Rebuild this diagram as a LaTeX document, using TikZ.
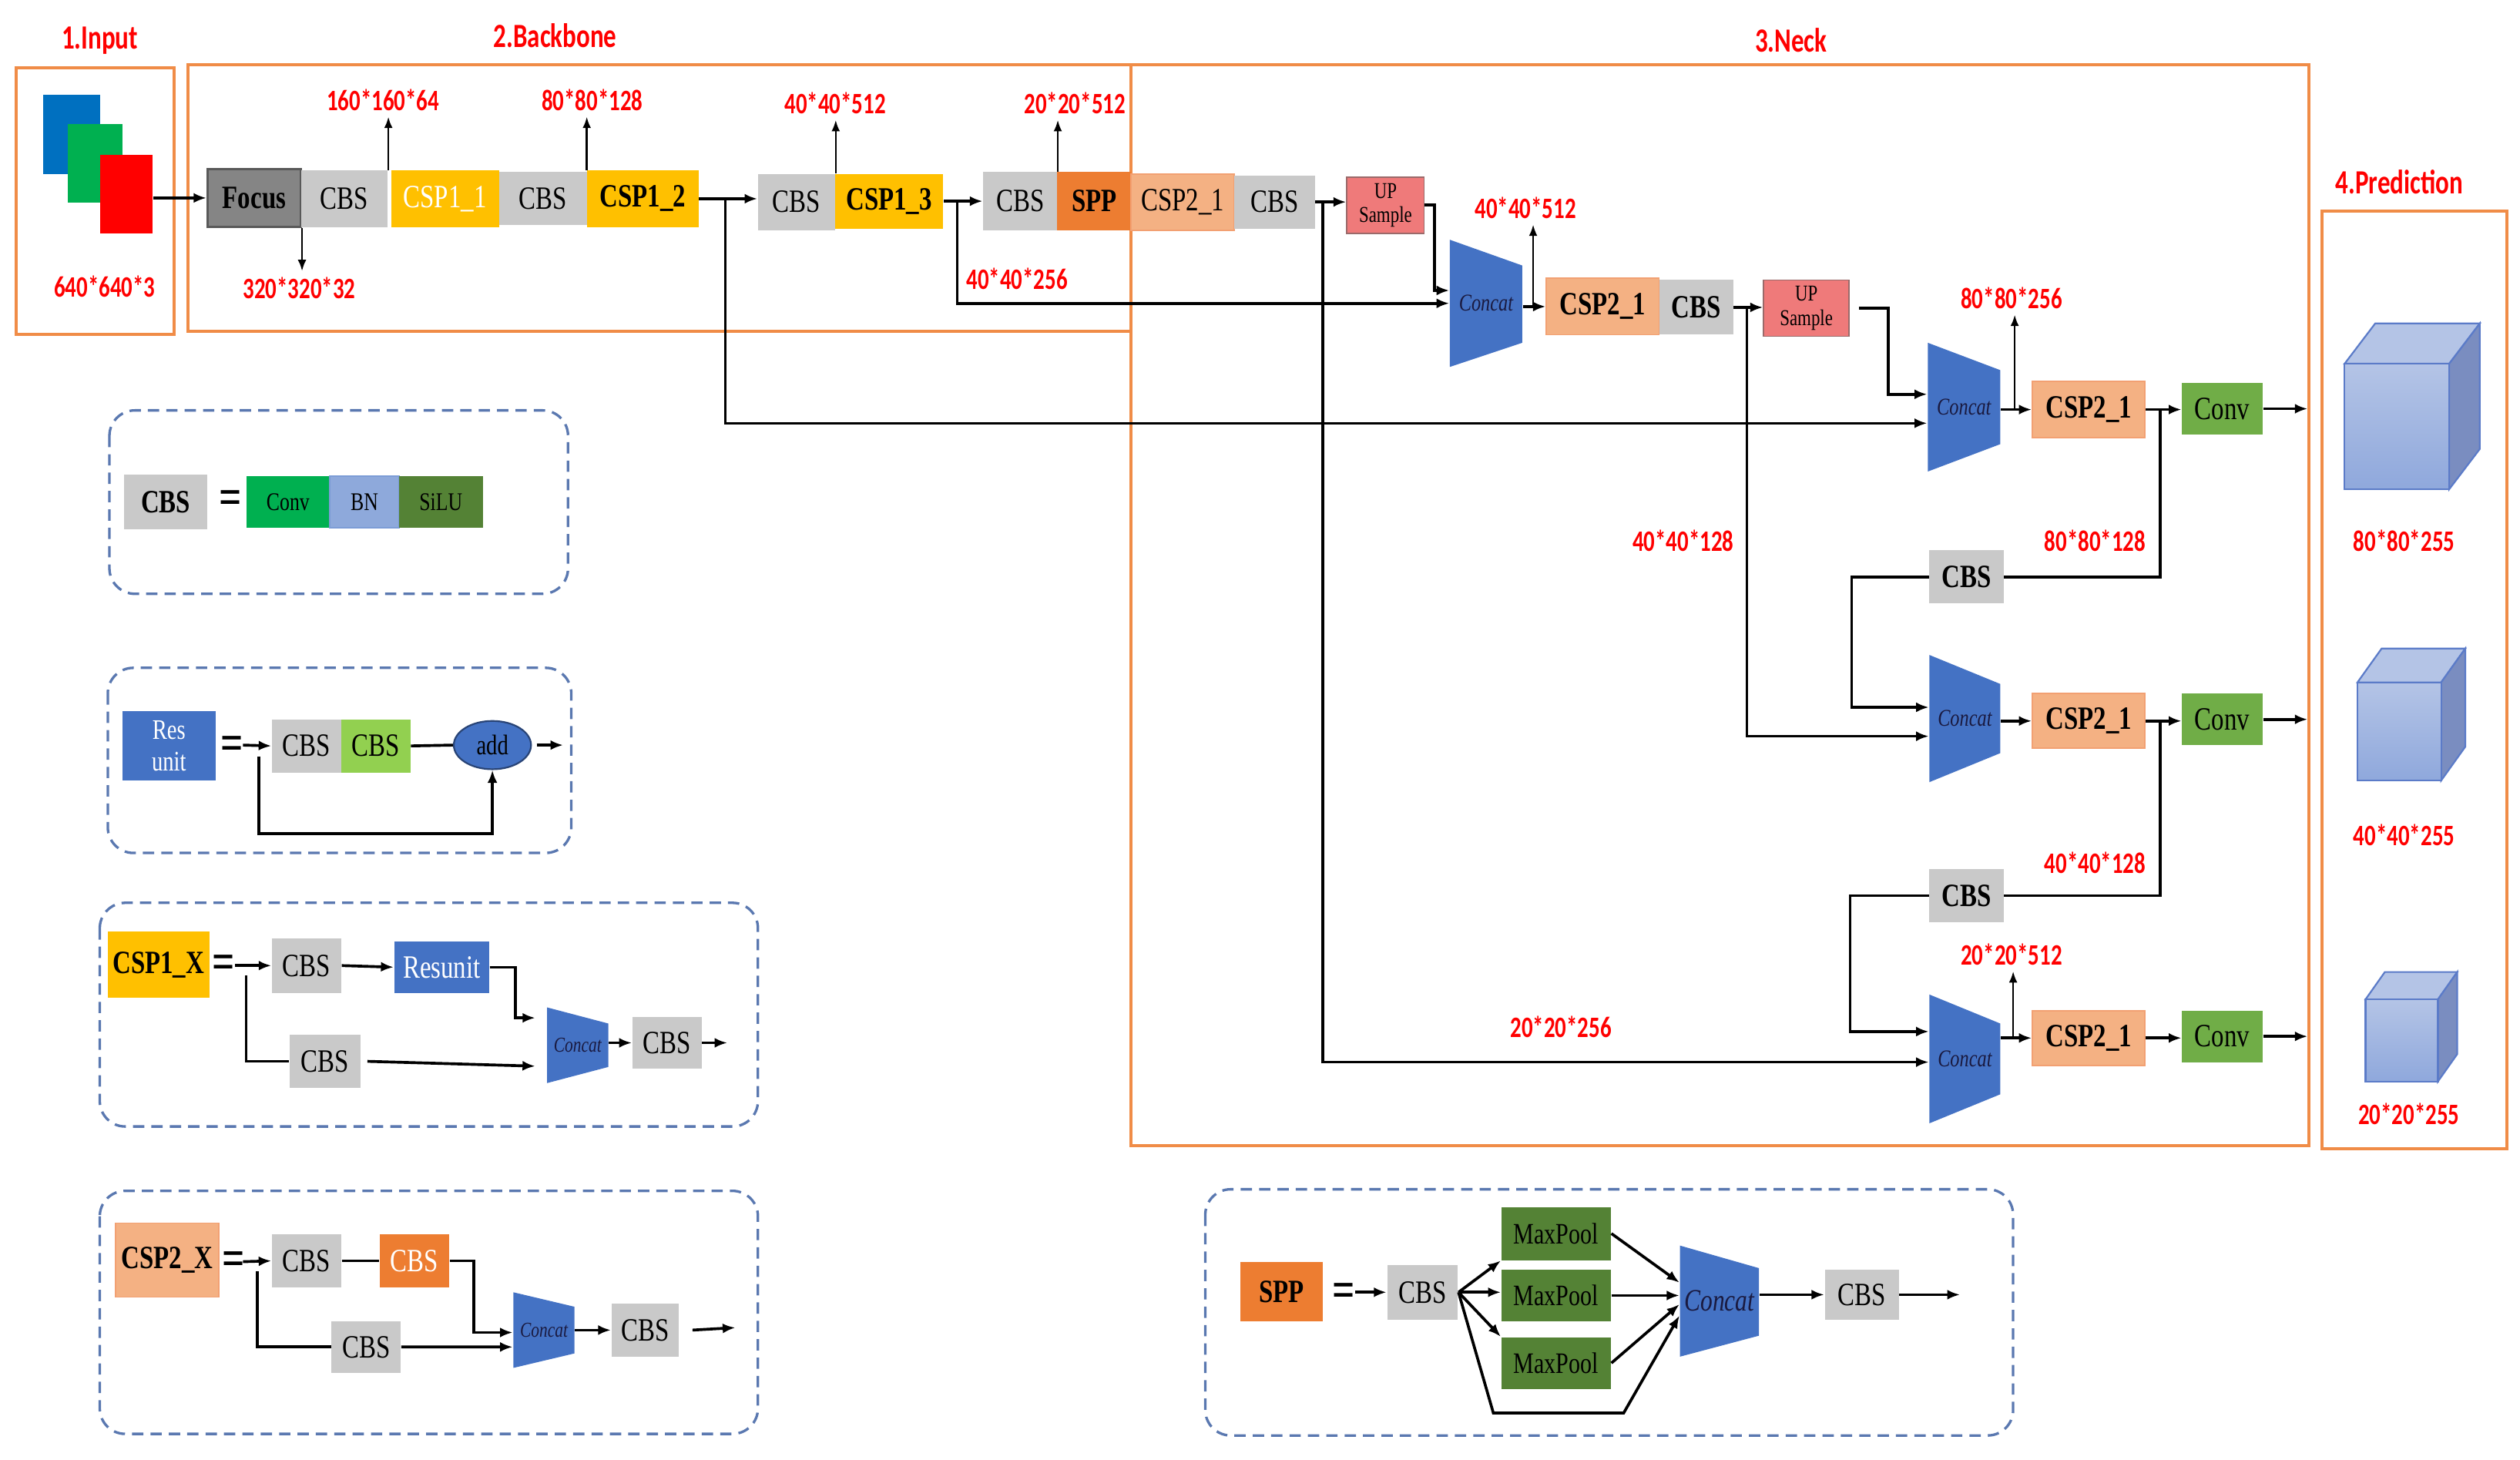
\documentclass[tikz,border=0pt]{standalone}
\usepackage{fontspec}
\usetikzlibrary{positioning, arrows.meta, calc, fit, shapes.geometric}
\newfontfamily\blkfont[FakeStretch=0.78]{Liberation Serif}
\newfontfamily\lblfont[FakeStretch=0.75]{Carlito}
\definecolor{cbsgray}{HTML}{C9C9C9}
\definecolor{focusgray}{HTML}{858585}
\definecolor{focusdark}{HTML}{595959}
\definecolor{cspyellow}{HTML}{FFC000}
\definecolor{spporange}{HTML}{ED7D31}
\definecolor{csppeach}{HTML}{F4B183}
\definecolor{csppeachdark}{HTML}{F2A072}
\definecolor{upred}{HTML}{EF7A7A}
\definecolor{upreddark}{HTML}{9A6A6A}
\definecolor{concatblue}{HTML}{4472C4}
\definecolor{concattext}{HTML}{1A1A40}
\definecolor{convgreen}{HTML}{70AD47}
\definecolor{lconvgreen}{HTML}{00B050}
\definecolor{bnblue}{HTML}{8EA9DB}
\definecolor{siluGreen}{HTML}{548235}
\definecolor{cbsgreen}{HTML}{92D050}
\definecolor{dimred}{HTML}{FF0000}
\definecolor{frameorange}{HTML}{F08C47}
\definecolor{dashblue}{HTML}{5A78B0}
\definecolor{inblue}{HTML}{0070C0}
\definecolor{ingreen}{HTML}{00B050}
\definecolor{inred}{HTML}{FF0000}
\definecolor{cubefront}{HTML}{8FA8DC}
\definecolor{cubetop}{HTML}{B4C4E6}
\definecolor{cubeside}{HTML}{7A8DC0}
\definecolor{cubeedge}{HTML}{5B7BC8}
\tikzset{
  sz/.style 2 args={minimum width=#1*0.02cm, minimum height=#2*0.02cm},
  blk/.style={inner sep=0pt, font=\blkfont\fontsize{11.5}{12}\selectfont},
  cbs node/.style={blk, fill=cbsgray},
  csp1 node/.style={blk, fill=cspyellow},
  csp2 node/.style={blk, fill=csppeach, draw=csppeachdark, line width=0.5pt},
  up node/.style={blk, fill=upred, draw=upreddark, line width=0.5pt, align=center, font=\blkfont\fontsize{8}{8.5}\selectfont},
  conv node/.style={blk, fill=convgreen},
  concat txt/.style={inner sep=0pt, text=concattext, font=\blkfont\itshape\fontsize{8.5}{9}\selectfont},
  dim/.style={text=dimred, inner sep=2pt, font=\lblfont\bfseries\fontsize{10.5}{11}\selectfont},
  title/.style={text=dimred, inner sep=1pt, font=\lblfont\bfseries\fontsize{12}{13}\selectfont},
  conn/.style={-{Latex[length=4.5pt,width=3.5pt]}, line width=1pt},
  dimarrow/.style={-{Latex[length=4pt,width=3pt]}, line width=0.7pt},
  wire/.style={line width=1pt},
  frame/.style={draw=frameorange, line width=1.1pt},
  legend/.style={draw=dashblue, dash pattern=on 4pt off 2.5pt, rounded corners=9pt, line width=0.9pt},
  eqsign/.style={inner sep=0pt, font=\blkfont\bfseries\fontsize{18}{18}\selectfont},
}

\begin{document}
\begin{tikzpicture}[x=0.02cm, y=-0.02cm]
\useasboundingbox (0,0) rectangle (1566,907.2);
% Frames
\draw[frame] (10,42) rectangle (108,208);
\draw[frame] (117,40) rectangle (703,206);
\draw[frame] (703,40) rectangle (1435,712);
\draw[frame] (1443,131) rectangle (1558,714);
\node[title] (tin) at (62,25) {1.Input};
\node[title] (tbb) at (345,22) {2.Backbone};
\node[title] (tneck) at (1113,25) {3.Neck};
\node[title] (tpred) at (1491,113) {4.Prediction};

% Input
\node[fill=inblue, inner sep=0pt, fit={(27,59)(62,108)}] (imgb) {};
\node[fill=ingreen, inner sep=0pt, fit={(42,77)(76,126)}] (imgg) {};
\node[fill=inred, inner sep=0pt, fit={(62,96)(95,145)}] (imgr) {};
\node[dim] (din) at (65,178) {640*640*3};

% Backbone
\node[blk, fill=focusgray, draw=focusdark, line width=0.8pt, sz={58}{36}] (focus) at (158,123) {\bfseries Focus};
\node[cbs node, sz={54}{35}] (bcbs1) at (214,123.5) {CBS};
\node[csp1 node, text=white, sz={67}{35}] (bcsp1) at (276.5,123.5) {CSP1\_1};
\node[cbs node, sz={55}{33}] (bcbs2) at (337.5,123.5) {CBS};
\node[csp1 node, sz={69}{35}] (bcsp2) at (399.5,123.5) {\bfseries CSP1\_2};
\node[cbs node, sz={48}{35}] (bcbs3) at (495,125.5) {CBS};
\node[csp1 node, sz={67}{34}] (bcsp3) at (552.5,125) {\bfseries CSP1\_3};
\node[cbs node, sz={46}{36}] (bcbs4) at (634,125) {CBS};
\node[blk, fill=spporange, sz={46}{36}] (bspp) at (680,125) {\bfseries SPP};
\node[csp2 node, sz={64}{35}] (ncsp1) at (735,125.5) {CSP2\_1};
\node[cbs node, sz={50}{33}] (ncbs1) at (792,125.5) {CBS};
\node[up node, sz={48}{35}] (up1) at (861,127.5) {UP\\Sample};
\draw[conn] (imgr.east |- focus.west) -- (focus.west);
\draw[conn] (bcsp2.east) -- (bcsp2.east -| bcbs3.west);
\draw[conn] (bcsp3.east) -- (bcsp3.east -| bcbs4.west);
\draw[conn] (ncbs1.east) -- (ncbs1.east -| up1.west);
\coordinate (br1) at ($(bcsp2.east)!0.45!(bcsp2.east -| bcbs3.west)$);
\coordinate (br2) at ($(bcsp3.east)!0.35!(bcsp3.east -| bcbs4.west)$);
\coordinate (br8) at ($(ncbs1.east)!0.25!(ncbs1.east -| up1.west)$);
\node[dim] (d160) at (238,62) {160*160*64};
\draw[dimarrow] (bcbs1.north east) -- (bcbs1.north east |- d160.south);
\node[dim] (d320) at (186,179) {320*320*32};
\draw[dimarrow] (focus.south east) -- (focus.south east |- d320.north);
\node[dim] (d80) at (368,62) {80*80*128};
\draw[dimarrow] (bcsp2.north west) -- (bcsp2.north west |- d80.south);
\node[dim] (d40a) at (519,64) {40*40*512};
\draw[dimarrow] (bcbs3.north east) -- (bcbs3.north east |- d40a.south);
\node[dim] (d20a) at (668,64) {20*20*512};
\draw[dimarrow] (bcbs4.north east) -- (bcbs4.north east |- d20a.south);
\node[dim] (d40b) at (632,173) {40*40*256};

% Neck
\fill[concatblue] (901,149) -- (946,165) -- (946,213) -- (901,228) -- cycle;
\node[concat txt, sz={45}{79}] (c1) at (923.5,188.5) {Concat};
\fill[concatblue] (1198,213) -- (1243,230) -- (1243,276) -- (1198,293) -- cycle;
\node[concat txt, sz={45}{80}] (c3) at (1220.5,253) {Concat};
\fill[concatblue] (1199,407) -- (1243,425) -- (1243,468) -- (1199,486) -- cycle;
\node[concat txt, sz={44}{79}] (c2) at (1221,446.5) {Concat};
\fill[concatblue] (1199,618) -- (1243,636) -- (1243,680) -- (1199,698) -- cycle;
\node[concat txt, sz={44}{80}] (c4) at (1221,658) {Concat};
\draw[conn] (up1.east) -- ++(6,0) |- ($(c1.west)+(0,-8)$);
\draw[conn] (br2) |- (c1.west);
\node[csp2 node, sz={70}{35}] (ncsp2) at (996,190.5) {\bfseries CSP2\_1};
\node[cbs node, sz={46}{34}] (ncbs2) at (1054,191) {\bfseries CBS};
\node[up node, sz={53}{35}] (up2) at (1122.5,191.5) {UP\\Sample};
\draw[conn] (c1.east |- ncsp2) -- (ncsp2.west);
\coordinate (br3) at ($(c1.east |- ncsp2)!0.45!(ncsp2.west)$);
\node[dim] (d40c) at (948,129) {40*40*512};
\draw[dimarrow] (br3) -- (br3 |- d40c.south);
\draw[conn] (ncbs2.east) -- (ncbs2.east -| up2.west);
\coordinate (br4) at ($(ncbs2.east)!0.45!(ncbs2.east -| up2.west)$);
\draw[conn] ($(up2.east)+(6,0)$) -- ++(18,0) |- ($(c3.west)+(0,-8)$);
\draw[conn] (br1) |- ($(c3.west)+(0,10)$);
\draw[conn] (br4) |- ($(c2.west)+(0,11)$);
\draw[conn] (br8) |- ($(c4.west)+(0,2)$);
\node[dim] (d20c) at (970,638) {20*20*256};

\node[csp2 node, sz={70}{35}] (ncsp3) at (1298,254.5) {\bfseries CSP2\_1};
\node[conv node, sz={50}{32}] (conv1) at (1381,254) {Conv};
\draw[conn] (c3.east |- ncsp3) -- (ncsp3.west);
\coordinate (br5) at ($(c3.east |- ncsp3)!0.45!(ncsp3.west)$);
\node[dim] (d80b) at (1250,185) {80*80*256};
\draw[dimarrow] (br5) -- (br5 |- d80b.south);
\draw[conn] (ncsp3.east) -- (ncsp3.east -| conv1.west);
\coordinate (br6) at ($(ncsp3.east)!0.4!(ncsp3.east -| conv1.west)$);
\coordinate (o1) at (1434,254);
\draw[conn] (conv1.east) -- (conv1.east -| o1);
\node[cbs node, sz={46}{33}] (mcbs1) at (1222,358.5) {\bfseries CBS};
\draw[wire] (br6) |- (mcbs1.east);
\draw[conn] (mcbs1.west) -- ++(-48,0) |- ($(c2.west)+(0,-7)$);
\node[dim] (d80c) at (1302,336) {80*80*128};
\node[dim] (d40d) at (1046,336) {40*40*128};

\node[csp2 node, sz={70}{34}] (ncsp4) at (1298,448) {\bfseries CSP2\_1};
\node[conv node, sz={50}{32}] (conv2) at (1381,447) {Conv};
\draw[conn] (c2.east |- ncsp4) -- (ncsp4.west);
\draw[conn] (ncsp4.east) -- (ncsp4.east -| conv2.west);
\coordinate (br7) at ($(ncsp4.east)!0.4!(ncsp4.east -| conv2.west)$);
\coordinate (o2) at (1434,447);
\draw[conn] (conv2.east) -- (conv2.east -| o2);
\node[cbs node, sz={46}{33}] (mcbs2) at (1222,556.5) {\bfseries CBS};
\draw[wire] (br7) |- (mcbs2.east);
\draw[conn] (mcbs2.west) -- ++(-49,0) |- ($(c4.west)+(0,-17)$);
\node[dim] (d40e) at (1302,536) {40*40*128};

\node[csp2 node, sz={70}{34}] (ncsp5) at (1298,645) {\bfseries CSP2\_1};
\node[conv node, sz={50}{32}] (conv3) at (1381,644) {Conv};
\draw[conn] (c4.east |- ncsp5) -- (ncsp5.west);
\coordinate (br9) at ($(c4.east |- ncsp5)!0.4!(ncsp5.west)$);
\node[dim] (d20b) at (1250,593) {20*20*512};
\draw[dimarrow] (br9) -- (br9 |- d20b.south);
\draw[conn] (ncsp5.east) -- (ncsp5.east -| conv3.west);
\coordinate (o3) at (1434,643);
\draw[conn] (conv3.east) -- (conv3.east -| o3);

% Prediction
\fill[cubetop, draw=cubeedge, line width=0.6pt] (1457,226) -- (1476,201) -- (1541,201) -- (1522,226) -- cycle;
\fill[cubeside, draw=cubeedge, line width=0.6pt] (1522,226) -- (1541,201) -- (1541,279) -- (1522,304) -- cycle;
\shade[top color=cubetop, bottom color=cubefront, draw=cubeedge, line width=0.6pt] (1457,226) rectangle (1522,304);
\node[dim] (p80) at (1494,336) {80*80*255};
\fill[cubetop, draw=cubeedge, line width=0.6pt] (1465,424) -- (1480,403) -- (1532,403) -- (1517,424) -- cycle;
\fill[cubeside, draw=cubeedge, line width=0.6pt] (1517,424) -- (1532,403) -- (1532,464) -- (1517,485) -- cycle;
\shade[top color=cubetop, bottom color=cubefront, draw=cubeedge, line width=0.6pt] (1465,424) rectangle (1517,485);
\node[dim] (p40) at (1494,519) {40*40*255};
\fill[cubetop, draw=cubeedge, line width=0.6pt] (1470,621) -- (1482,604) -- (1527,604) -- (1515,621) -- cycle;
\fill[cubeside, draw=cubeedge, line width=0.6pt] (1515,621) -- (1527,604) -- (1527,655) -- (1515,672) -- cycle;
\shade[top color=cubetop, bottom color=cubefront, draw=cubeedge, line width=0.6pt] (1470,621) rectangle (1515,672);
\node[dim] (p20) at (1497,692) {20*20*255};

% Legend CBS
\draw[legend] (68,255) rectangle (353,369);
\node[cbs node, sz={52}{34}] (lcbs) at (103,312) {\bfseries CBS};
\node[eqsign] (eq1) at (143,312) {=};
\node[blk, fill=lconvgreen, font=\blkfont\fontsize{9}{9}\selectfont, sz={52}{32}] (lconv) at (179,312) {Conv};
\node[blk, fill=bnblue, draw=concatblue!70, line width=0.6pt, font=\blkfont\fontsize{9}{9}\selectfont, sz={43}{32}] (lbn) at (226.5,312) {BN};
\node[blk, fill=siluGreen, font=\blkfont\fontsize{9}{9}\selectfont, sz={52}{32}] (lsilu) at (274,312) {SiLU};

% Legend Res unit
\draw[legend] (67,415) rectangle (355,530);
\node[blk, fill=concatblue, text=white, align=center, font=\blkfont\fontsize{10}{11}\selectfont, sz={58}{43}] (lres) at (105,463.5) {Res\\unit};
\node[eqsign] (eq2) at (144,465) {=};
\coordinate (ra) at (151,463);
\node[cbs node, sz={43}{33}] (rcbs1) at (190.5,463.5) {CBS};
\node[blk, fill=cbsgreen, sz={43}{33}] (rcbs2) at (233.5,463.5) {CBS};
\node[ellipse, fill=concatblue, draw=concatblue!60!black, line width=0.6pt, inner sep=0pt, sz={48}{30}, font=\blkfont\fontsize{10}{10}\selectfont] (add) at (306,463) {add};
\draw[conn] (ra) -- (rcbs1.west);
\draw[wire] (rcbs2.east) -- (add.west);
\coordinate (ro) at (350,463);
\draw[conn] ($(add.east)+(3,0)$) -- (ro);
\draw[conn] (161,470) -- (161,518) -| (add.south);

% Legend CSP1_X
\draw[legend] (62,561) rectangle (471,700);
\node[csp1 node, sz={63}{41}] (lcsp1) at (98.5,599.5) {\bfseries CSP1\_X};
\node[eqsign] (eq3) at (139,601) {=};
\coordinate (pa) at (146,600);
\node[cbs node, sz={43}{34}] (p1cbs1) at (190.5,600) {CBS};
\node[blk, fill=concatblue, text=white, sz={59}{32}] (resu) at (274.5,601) {Resunit};
\fill[concatblue] (340,626) -- (378,636) -- (378,663) -- (340,673) -- cycle;
\node[concat txt, font=\blkfont\itshape\fontsize{7.5}{8}\selectfont, sz={38}{47}] (p1c) at (359,649.5) {Concat};
\node[cbs node, sz={44}{33}] (p1cbs2) at (202,659.5) {CBS};
\node[cbs node, sz={43}{32}] (p1cbs3) at (414.5,648) {CBS};
\draw[conn] (pa) -- (p1cbs1.west);
\draw[conn] (p1cbs1.east) -- (resu.west);
\draw[conn] (resu.east) -- ++(16,0) |- ($(p1c.west)+(-7,-17)$);
\draw[wire] (153,606) |- (p1cbs2.west);
\draw[conn] ($(p1cbs2.east)+(4,0)$) -- ($(p1c.west)+(-7,13)$);
\draw[conn] (p1c.east |- p1cbs3) -- (p1cbs3.west);
\coordinate (po) at (452,647);
\draw[conn] (p1cbs3.east) -- (p1cbs3.east -| po);

% Legend CSP2_X
\draw[legend] (62,740) rectangle (471,891);
\node[csp2 node, sz={64}{46}] (lcsp2) at (104,783) {\bfseries CSP2\_X};
\node[eqsign] (eq4) at (145,785) {=};
\coordinate (qa) at (151,784);
\node[cbs node, sz={43}{33}] (p2cbs1) at (190.5,783.5) {CBS};
\node[blk, fill=spporange, text=white, sz={43}{33}] (p2cbs2) at (257.5,783.5) {CBS};
\fill[concatblue] (319,803) -- (357,812) -- (357,841) -- (319,850) -- cycle;
\node[concat txt, font=\blkfont\itshape\fontsize{7.5}{8}\selectfont, sz={38}{47}] (p2c) at (338,826.5) {Concat};
\node[cbs node, sz={43}{32}] (p2cbs3) at (227.5,837) {CBS};
\node[cbs node, sz={42}{33}] (p2cbs4) at (401,826.5) {CBS};
\draw[conn] (qa) -- (p2cbs1.west);
\draw[wire] (p2cbs1.east) -- (p2cbs2.west);
\draw[conn] (p2cbs2.east) -- ++(15,0) |- ($(p2c.west)+(0,1.5)$);
\draw[wire] (160,790) |- (p2cbs3.west);
\draw[conn] (p2cbs3.east) -- ($(p2c.west)+(0,10.5)$);
\draw[conn] (p2c.east |- p2cbs4) -- (p2cbs4.west);
\coordinate (qo) at (457,825);
\draw[conn] ($(p2cbs4.east)+(8,0)$) -- (qo);

% Legend SPP
\draw[legend] (749,739) rectangle (1251,892);
\node[blk, fill=spporange, sz={51}{37}] (lspp) at (796.5,802.5) {\bfseries SPP};
\node[eqsign] (eq5) at (835,805) {=};
\coordinate (sa) at (842,803);
\node[cbs node, sz={44}{34}] (scbs1) at (884,803) {CBS};
\node[blk, fill=siluGreen, font=\blkfont\fontsize{10.5}{11}\selectfont, sz={68}{33}] (mp1) at (967,766.5) {MaxPool};
\node[blk, fill=siluGreen, font=\blkfont\fontsize{10.5}{11}\selectfont, sz={68}{32}] (mp2) at (967,805) {MaxPool};
\node[blk, fill=siluGreen, font=\blkfont\fontsize{10.5}{11}\selectfont, sz={68}{32}] (mp3) at (967,847) {MaxPool};
\fill[concatblue] (1044,774) -- (1093,788) -- (1093,830) -- (1044,843) -- cycle;
\node[concat txt, font=\blkfont\itshape\fontsize{11}{12}\selectfont, sz={49}{69}] (sc) at (1068.5,808.5) {Concat};
\node[cbs node, sz={46}{31}] (scbs2) at (1157,804.5) {CBS};
\draw[conn] (sa) -- (sa -| scbs1.west);
\draw[conn] (scbs1.east) -- (mp1.south west);
\draw[conn] (scbs1.east) -- (scbs1.east -| mp2.west);
\draw[conn] (scbs1.east) -- (mp3.north west);
\draw[conn] (scbs1.east) -- (928,878) -- (1009,878) -- ($(sc.west)+(0,9)$);
\draw[conn] (mp1.east) -- ($(sc.west)+(0,-11.5)$);
\draw[conn] (mp2.east) -- (mp2.east -| sc.west);
\draw[conn] (mp3.east) -- ($(sc.west)+(0,2)$);
\draw[conn] (sc.east |- scbs2) -- (scbs2.west);
\coordinate (so) at (1218,804);
\draw[conn] (scbs2.east) -- (scbs2.east -| so);
\end{tikzpicture}
\end{document}
